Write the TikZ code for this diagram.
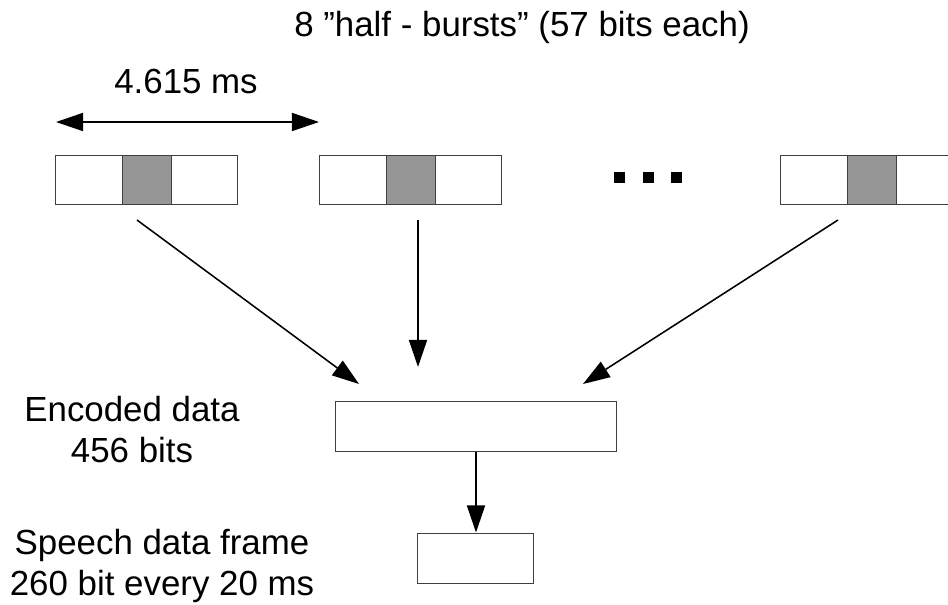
\documentclass[tikz,border=0pt]{standalone}
\usepackage{fontspec}
\setmainfont{Liberation Sans}
\usetikzlibrary{arrows.meta}
\definecolor{burstgray}{RGB}{150,150,150}
\tikzset{
    seg/.style={draw=black!75, line width=0.7pt},
    flow/.style={line width=1.1pt, -{Triangle[length=0.675cm, width=0.45cm]}},
    span/.style={line width=1.1pt, {Triangle[length=0.675cm, width=0.45cm]}-{Triangle[length=0.675cm, width=0.45cm]}},
    txt/.style={font=\fontsize{24.8}{28.6}\selectfont, align=center, anchor=base}
}

\begin{document}
\begin{tikzpicture}[x = 0.025cm, y = -0.025cm]
    \useasboundingbox (0, 0) rectangle (948, 605);

    \foreach \n/\x in {1/55, 2/319, 3/780}
    {
        \draw[seg] (\x, 155) rectangle ++(67, 49);
        \filldraw[seg, fill = burstgray] (\x+67, 155) rectangle ++(49, 49);
        \draw[seg] (\x+116, 155) rectangle ++(66, 49);
    }
    \foreach \x in {614, 643, 671}
    {
        \fill (\x, 172) rectangle ++(11, 11);
    }

    \node[txt] (title) at (522, 36) {8 ”half - bursts” (57 bits each)};
    \node[txt] (dur) at (186, 93) {4.615 ms};
    \coordinate (w1) at (56, 122);
    \coordinate (w2) at (319, 122);
    \draw[span] (w1) -- (w2);

    \node[seg, minimum width = 7cm, minimum height = 1.25cm] (enc) at (476, 426) {};
    \node[seg, minimum width = 2.875cm, minimum height = 1.25cm] (frame) at (475.5, 558) {};
    \node[txt] (enclbl) at (132, 462) {Encoded data\\456 bits};
    \node[txt] (framelbl) at (162, 595) {Speech data frame\\260 bit every 20 ms};

    \foreach \n/\sx/\tx/\ty in {1/137/359/384, 2/418/418/367, 3/838/583/384}
    {
        \coordinate (s\n) at (\sx, 220);
        \coordinate (t\n) at (\tx, \ty);
        \draw[flow] (s\n) -- (t\n);
    }
    \draw[flow] (enc.south) -- (enc.south |- frame.north);
\end{tikzpicture}
\end{document}
